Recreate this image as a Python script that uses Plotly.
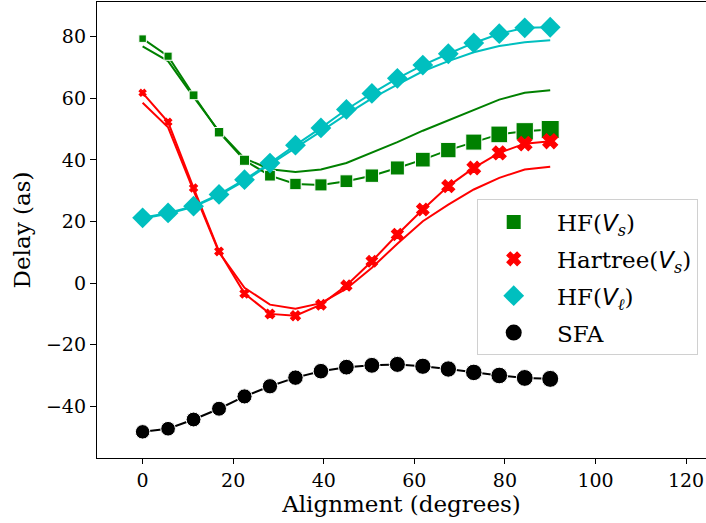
import plotly.graph_objects as go

angles = [0, 5.625, 11.25, 16.875, 22.5, 28.125, 33.75, 39.375, 45, 50.625,
          56.25, 61.875, 67.5, 73.125, 78.75, 84.375, 90]

hf_vs = [79.4, 73.7, 61.0, 49.0, 39.9, 34.9, 32.2, 31.9, 33.1, 34.9,
         37.4, 40.1, 43.2, 45.8, 48.3, 49.3, 49.9]
hf_vs_line = [76.9, 72.1, 60.5, 49.3, 40.5, 37.0, 36.1, 36.9, 39.0, 42.3,
              45.8, 49.5, 52.8, 56.2, 59.6, 61.8, 62.6]

hartree_vs = [61.8, 52.3, 30.9, 10.3, -3.4, -10.0, -10.6, -7.0, -0.8, 7.1,
              15.8, 23.9, 31.5, 37.4, 42.3, 45.3, 46.1]
hartree_vs_line = [58.6, 50.6, 30.0, 10.0, -1.5, -7.0, -8.3, -6.5, -1.8, 5.0,
                   12.8, 20.1, 25.5, 30.4, 34.2, 36.9, 37.8]

hf_vl = [21.2, 22.8, 25.0, 28.8, 33.6, 39.0, 44.8, 50.4, 56.4, 61.6,
         66.5, 70.8, 74.5, 78.0, 81.0, 82.9, 83.1]
hf_vl_line = [21.0, 22.5, 24.8, 28.5, 33.2, 38.5, 44.0, 49.3, 54.8, 60.0,
              64.5, 68.8, 72.1, 75.0, 77.0, 78.2, 78.9]

sfa = [-48.3, -47.3, -44.3, -40.8, -36.8, -33.5, -30.7, -28.6, -27.3, -26.7,
       -26.4, -27.0, -27.9, -29.0, -30.0, -30.8, -31.1]

V = '<span style="font-family:DejaVu Sans"><i>V</i></span>'
labels = [f"HF({V}<sub><i>s</i></sub>)", f"Hartree({V}<sub><i>s</i></sub>)",
          f"HF({V}<sub><i>ℓ</i></sub>)", "SFA"]

x_ticks = [0, 20, 40, 60, 80, 100, 120]
y_ticks = [-40, -20, 0, 20, 40, 60, 80]

GREEN = "#008000"
RED = "#ff0000"
CYAN = "#00bfbf"
BLACK = "#000000"
FONT = "DejaVu Serif"

n = len(angles)
def ramp(a, b):
    return [a + (b - a) * i / (n - 1) for i in range(n)]

fig = go.Figure()

# plain comparison lines
for ys, c in [(hf_vs_line, GREEN), (hartree_vs_line, RED), (hf_vl_line, CYAN)]:
    fig.add_trace(go.Scatter(x=angles, y=ys, mode="lines",
                             line=dict(color=c, width=2), showlegend=False,
                             hoverinfo="skip"))

# marker series
fig.add_trace(go.Scatter(x=angles, y=hf_vs, mode="lines+markers",
                         line=dict(color=GREEN, width=2),
                         marker=dict(symbol="square", size=ramp(7.5, 18),
                                     color=GREEN, opacity=1),
                         showlegend=False))
fig.add_trace(go.Scatter(x=angles, y=hartree_vs, mode="lines+markers",
                         line=dict(color=RED, width=2),
                         marker=dict(symbol="x", size=ramp(6, 13),
                                     color=RED, opacity=1,
                                     line=dict(color=RED, width=1.2)),
                         showlegend=False))
fig.add_trace(go.Scatter(x=angles, y=hf_vl, mode="lines+markers",
                         line=dict(color=CYAN, width=2),
                         marker=dict(symbol="diamond", size=16, color=CYAN,
                                     opacity=1),
                         showlegend=False))
fig.add_trace(go.Scatter(x=angles, y=sfa, mode="lines+markers",
                         line=dict(color=BLACK, width=2),
                         marker=dict(symbol="circle", size=ramp(14.5, 17),
                                     color=BLACK, opacity=1),
                         showlegend=False))

# legend entries
for i, (lab, sym, c, s, lw) in enumerate(zip(labels, ["square", "x", "diamond", "circle"],
                                             [GREEN, RED, CYAN, BLACK], [14, 12, 19, 17],
                                             [0, 1.2, 0, 0])):
    fig.add_trace(go.Scatter(x=[None], y=[None], mode="markers", name=" " + lab,
                             legendgroup=f"g{i}",
                             marker=dict(symbol=sym, size=s, color=c,
                                         line=dict(color=c, width=lw))))

fig.update_layout(
    width=706, height=523,
    margin=dict(l=97, r=0, t=2, b=65),
    paper_bgcolor="white", plot_bgcolor="white",
    font=dict(family=FONT, size=19, color="black"),
    legend=dict(x=0.6235, y=0.567, xanchor="left", yanchor="top",
                bgcolor="rgba(255,255,255,0.8)", bordercolor="#d0d0d0",
                borderwidth=1, font=dict(family=FONT, size=23, color="black"),
                itemsizing="trace", itemwidth=62, tracegroupgap=4),
)
fig.update_xaxes(range=[-10.07, 124.4], tickvals=x_ticks, showgrid=False,
                 zeroline=False, showline=True, linecolor="black", linewidth=1.3,
                 mirror=True, ticks="outside", ticklen=5, tickcolor="black",
                 tickwidth=1.3, automargin=False,
                 tickfont=dict(size=19),
                 title=dict(text="Alignment (degrees)", font=dict(size=23),
                            standoff=4))
fig.update_yaxes(range=[-56.8, 91.3], tickvals=y_ticks, showgrid=False,
                 zeroline=False, showline=True, linecolor="black", linewidth=1.3,
                 ticks="outside", ticklen=6, tickcolor="black", tickwidth=1.3,
                 automargin=False,
                 tickfont=dict(size=19),
                 title=dict(text="Delay (as)", font=dict(size=23), standoff=8))

fig.write_html("out.html", config={"displayModeBar": False},
               post_script="document.body.style.margin='0';")
